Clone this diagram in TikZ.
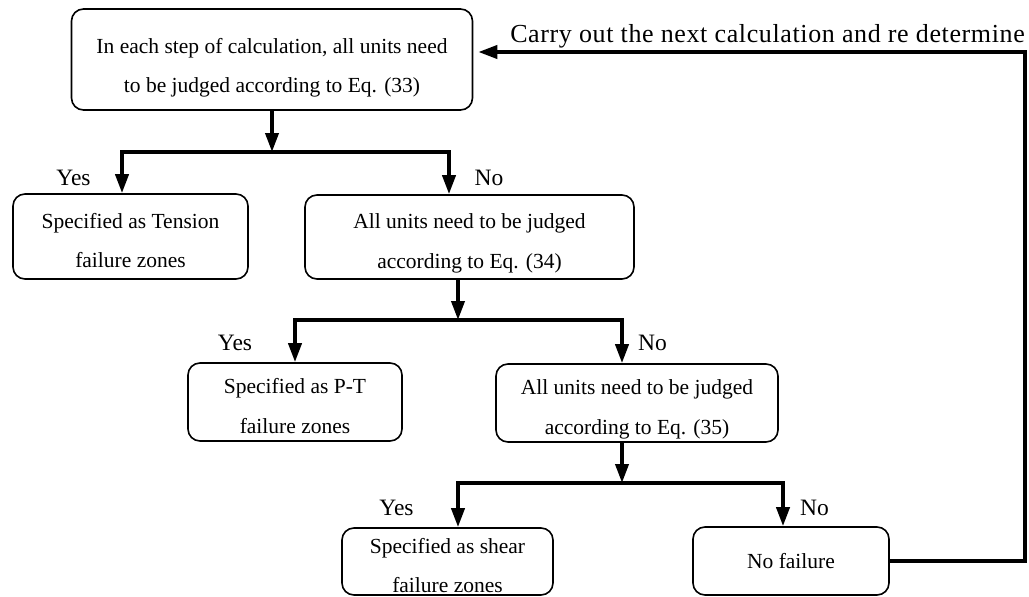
\documentclass[tikz,border=0pt]{standalone}
\usepackage{fontspec}
\setmainfont{Liberation Serif}
\newfontfamily\spacedfont[LetterSpace=2.4]{Liberation Serif}
\usetikzlibrary{arrows.meta}

\begin{document}
\begin{tikzpicture}[x=1pt,y=-1pt,
    box/.style={draw, line width=1.6pt, rounded corners=12pt, align=center,
      font=\fontsize{21.5}{39.5}\selectfont, inner sep=0pt},
    twoline/.style={text height=#1, text depth=0pt},
    twoline/.default=62pt,
    arr/.style={line width=3.8pt, -{Triangle[length=19pt,width=13pt]}},
    yesno/.style={font=\fontsize{23.5}{28}\selectfont, inner sep=0pt}]
    \useasboundingbox (0,0) rectangle (1029,597);

    % boxes, level by level
    \node[box, twoline=66pt, minimum width=401pt, minimum height=101pt] (q1) at (272,59.5)
        {In each step of calculation, all units need\\to be judged according to Eq. (33)};
    \node[box, twoline, minimum width=235pt, minimum height=85pt] (tens) at (130.5,236.5)
        {Specified as Tension\\failure zones};
    \node[box, twoline, minimum width=329pt, minimum height=84pt] (q2) at (469.5,237)
        {All units need to be judged\\according to Eq. (34)};
    \node[box, twoline, minimum width=214pt, minimum height=78pt] (pt) at (295,402)
        {Specified as P-T\\failure zones};
    \node[box, twoline, minimum width=282pt, minimum height=78pt] (q3) at (637,403)
        {All units need to be judged\\according to Eq. (35)};
    \node[box, twoline, minimum width=211pt, minimum height=67pt] (shear) at (447.5,561.5)
        {Specified as shear\\failure zones};
    \node[box, minimum width=196pt, minimum height=68pt] (nofail) at (791,561)
        {No failure};

    % branch points
    \coordinate (j1) at (272,152);
    \coordinate (j2) at (458,320);
    \coordinate (j3) at (622,483);
    \coordinate (fb) at (1025,52);

    % first decision
    \draw[arr] (q1) -- (j1);
    \draw[arr] (j1) -| ([xshift=-8.5pt]tens.north);
    \draw[arr] (j1) -| ([xshift=-20.5pt]q2.north);
    \node[yesno] (yes1) at (73.5,178) {Yes};
    \node[yesno] (no1) at (489,178) {No};

    % second decision
    \draw[arr] (q2.south -| j2) -- (j2);
    \draw[arr] (j2) -| (pt.north);
    \draw[arr] (j2) -| (q3.north -| j3);
    \node[yesno] (yes2) at (235,343) {Yes};
    \node[yesno] (no2) at (652.5,343) {No};

    % third decision
    \draw[arr] (q3.south -| j3) -- (j3);
    \draw[arr] (j3) -| ([xshift=10.5pt]shear.north);
    \draw[arr] (j3) -| ([xshift=-8pt]nofail.north);
    \node[yesno] (yes3) at (396.5,508) {Yes};
    \node[yesno] (no3) at (814.5,508) {No};

    % loop back to the top
    \draw[arr, shorten >=5pt] (nofail.east) -| (fb) -- (fb -| q1.east);
    \node[font=\spacedfont\fontsize{26}{30}\selectfont, anchor=base east, inner sep=0pt]
        (again) at (1025,42) {Carry out the next calculation and re determine};
\end{tikzpicture}
\end{document}
